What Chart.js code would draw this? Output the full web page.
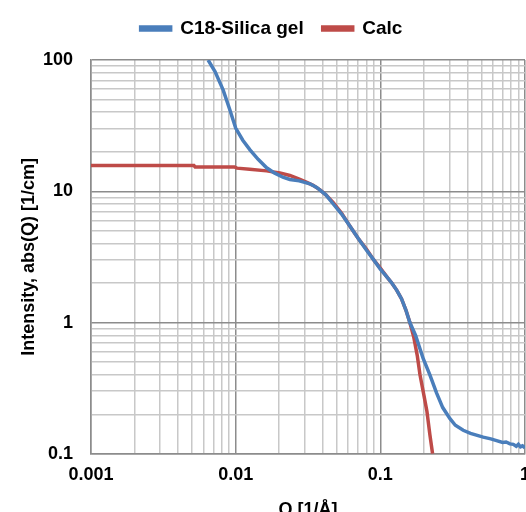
<!DOCTYPE html>
<html><head><meta charset="utf-8">
<script src="https://cdn.jsdelivr.net/npm/chart.js@4"></script>
<style>html,body{margin:0;padding:0;overflow:hidden;background:#fff}</style>
</head><body>
<canvas id="c" width="542" height="525"></canvas>
<script>
const seriesNames = ['C18-Silica gel', 'Calc'];
const silicaQ = [0.00645,0.0072,0.0082,0.0091,0.01,0.0112,0.01256,0.0143,0.01637,0.0185,0.0212,0.0237,0.0275,0.0326,0.0363,0.042,0.0473,0.054,0.0617,0.07,0.0803,0.09,0.1,0.112,0.12,0.13,0.14,0.15,0.16,0.175,0.198,0.22,0.245,0.27,0.303,0.33,0.374,0.42,0.514,0.58,0.636,0.7,0.74,0.787,0.83,0.87,0.9,0.93,0.96,1.0];
const silicaI = [100,81.5,59,42,30.3,24.5,20.7,17.5,15.1,13.8,12.8,12.3,12.0,11.4,10.7,9.4,8.0,6.7,5.42,4.4,3.55,3.0,2.55,2.2,2.0,1.76,1.52,1.25,1.0,0.8,0.53,0.4,0.29,0.225,0.185,0.165,0.151,0.143,0.134,0.13,0.126,0.122,0.123,0.119,0.118,0.114,0.118,0.113,0.115,0.111];
const calcQ = [0.001,0.00515,0.00525,0.0098,0.0102,0.0125,0.01637,0.0202,0.0237,0.027,0.0305,0.0343,0.0385,0.042,0.0473,0.054,0.0617,0.07,0.0803,0.09,0.1,0.112,0.12,0.13,0.14,0.15,0.16,0.17,0.18,0.188,0.2,0.21,0.22,0.2297];
const calcI = [15.7,15.7,15.3,15.3,15.0,14.7,14.3,13.8,13.2,12.5,11.8,11.1,10.2,9.4,8.2,6.8,5.42,4.4,3.61,3.0,2.6,2.2,2.0,1.76,1.52,1.25,1.0,0.78,0.56,0.40,0.28,0.21,0.14,0.1];
const xTickLabels = ['0.001','0.01','0.1','1'];
const yTickLabels = ['0.1','1','10','100'];
const xTitle = 'Q [1/Å]';
const yTitle = 'Intensity, abs(Q) [1/cm]';

function toPoints(xs, ys){ return xs.map((x,i)=>({x:x, y:ys[i]})); }
function logTicks(labels){
  const decades = labels.map(Number);
  const t = [];
  for (let d=0; d<decades.length; d++){
    const base = decades[d];
    if (d === decades.length-1){ t.push({value: base}); break; }
    for (let m=1; m<10; m++) t.push({value: +(base*m).toPrecision(6)});
  }
  return t;
}
function isMajor(v, labels){ return labels.some(l => Math.abs(Number(l)-v) < 1e-9); }
function fmt(v, labels){ const l = labels.find(l => Math.abs(Number(l)-v) < 1e-9); return l === undefined ? '' : l; }

const family = '"Liberation Sans", Arial, sans-serif';
const font = {family: family, weight: 'bold', size: 18};
const legendFont = {family: family, weight: 'bold', size: 19};

const legendMargin = {
  id: 'legendMargin',
  beforeInit(chart){
    const orig = chart.legend.fit;
    chart.legend.fit = function(){ orig.call(this); this.height += 12; };
  }
};

new Chart(document.getElementById('c'), {
  type: 'scatter',
  data: {
    datasets: [
      {label: seriesNames[0], data: toPoints(silicaQ, silicaI), showLine: true, borderColor: '#4A7EBB', backgroundColor: '#4A7EBB', borderWidth: 3.5, pointRadius: 0, tension: 0},
      {label: seriesNames[1], data: toPoints(calcQ, calcI), showLine: true, borderColor: '#BE4B48', backgroundColor: '#BE4B48', borderWidth: 3.5, pointRadius: 0, tension: 0}
    ]
  },
  plugins: [legendMargin],
  options: {
    responsive: false,
    animation: false,
    layout: {padding: {left: 18, right: 17, top: 0, bottom: 0}},
    plugins: {
      legend: {position: 'top', labels: {color: '#000', font: legendFont, boxWidth: 30, boxHeight: 3, padding: 19}},
      tooltip: {enabled: false}
    },
    scales: {
      x: {
        type: 'logarithmic', min: 0.001, max: 1,
        afterBuildTicks: (s) => { s.ticks = logTicks(xTickLabels); },
        ticks: {autoSkip: false, maxRotation: 0, color: '#000', font: font, padding: 10, callback: (v) => fmt(v, xTickLabels)},
        grid: {drawTicks: false, color: (c) => isMajor(c.tick.value, xTickLabels) ? '#8C8C8C' : '#C8C8C8', lineWidth: 1.5},
        border: {color: '#8C8C8C', width: 1.5},
        title: {display: true, text: xTitle, color: '#000', font: font, padding: {top: 4}}
      },
      y: {
        type: 'logarithmic', min: 0.1, max: 100,
        afterBuildTicks: (s) => { s.ticks = logTicks(yTickLabels); },
        afterFit: (s) => { s.width = 73; },
        ticks: {autoSkip: false, color: '#000', font: font, padding: 18, callback: (v) => fmt(v, yTickLabels)},
        grid: {drawTicks: false, color: (c) => isMajor(c.tick.value, yTickLabels) ? '#8C8C8C' : '#C8C8C8', lineWidth: 1.5},
        border: {color: '#8C8C8C', width: 1.5},
        title: {display: true, text: yTitle, color: '#000', font: font, padding: {top: 0, bottom: 6}}
      }
    }
  }
});
</script>
</body></html>
